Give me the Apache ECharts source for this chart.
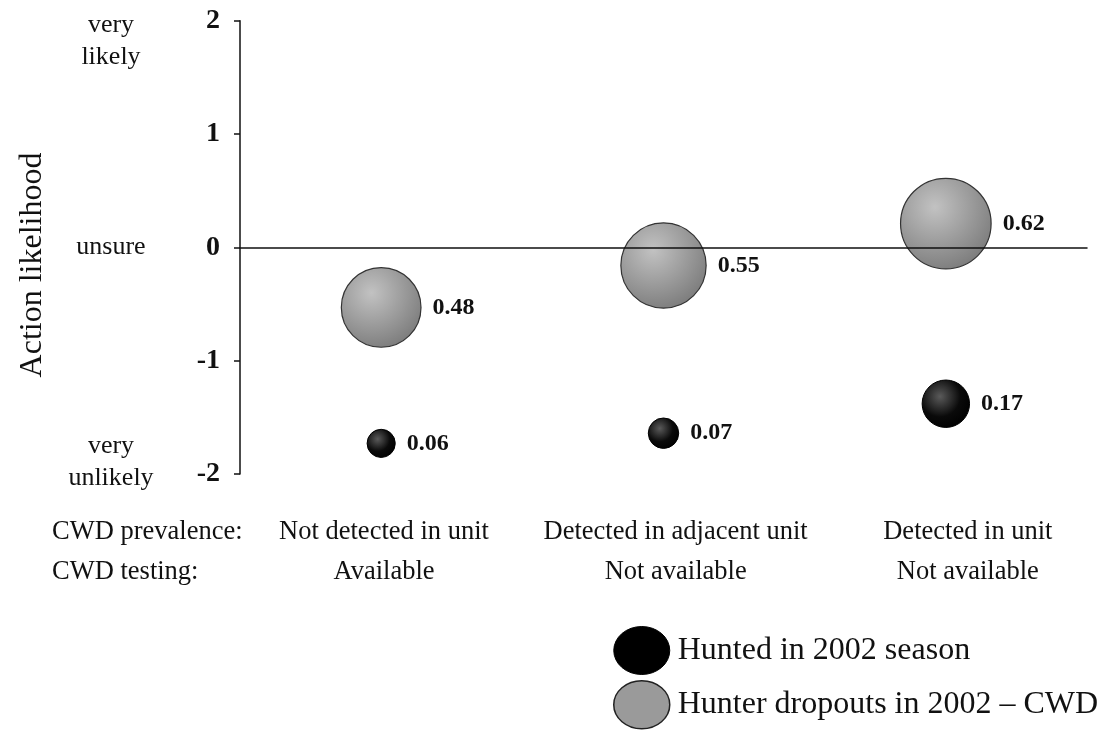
<!DOCTYPE html>
<html><head><meta charset="utf-8">
<script src="https://cdn.jsdelivr.net/npm/echarts@6/dist/echarts.min.js"></script>
<style>html,body{margin:0;padding:0;background:#fff}#c{width:1100px;height:730px}</style>
</head><body><div id="c"></div>
<script>
// ---- data ----
const prevalence = ['Not detected in unit', 'Detected in adjacent unit', 'Detected in unit'];
const testing = ['Available', 'Not available', 'Not available'];
const rowLabels = ['CWD prevalence:', 'CWD testing:'];
const seriesNames = ['Hunted in 2002 season', 'Hunter dropouts in 2002 \u2013 CWD'];
const huntedLikelihood = [-1.73, -1.64, -1.38];
const huntedShare = [0.06, 0.07, 0.17];
const dropoutLikelihood = [-0.53, -0.16, 0.21];
const dropoutShare = [0.48, 0.55, 0.62];
const yTicks = [-2, -1, 0, 1, 2];
const yDescriptorValues = [2, 0, -2];
const yDescriptors = ['very\nlikely', 'unsure', 'very\nunlikely'];
const yAxisName = 'Action likelihood';

const FONT = '"Liberation Serif", "DejaVu Serif", serif';
const chart = echarts.init(document.getElementById('c'), null, {renderer: 'canvas'});

function toPoints(ys, shares) {
  return ys.map((y, i) => [i + 1, y, shares[i]]);
}
const sizeFn = d => 115 * Math.sqrt(d[2]);

const grayGrad = {type: 'radial', x: 0.38, y: 0.32, r: 0.72,
  colorStops: [{offset: 0, color: '#c2c2c2'}, {offset: 1, color: '#7c7c7c'}]};
const blackGrad = {type: 'radial', x: 0.38, y: 0.35, r: 0.7,
  colorStops: [{offset: 0, color: '#5a5a5a'}, {offset: 0.6, color: '#0a0a0a'}, {offset: 1, color: '#000'}]};

const labelCfg = {show: true, position: 'right', distance: 11,
  formatter: p => p.data[2].toFixed(2),
  fontFamily: FONT, fontWeight: 'bold', fontSize: 24, color: '#111'};

// ellipse whose own bounding box is 56 x 48 so that aspect keeping still gives an ellipse
const ellipseIcon = 'path://M0,24 A28,24 0 1,1 56,24 A28,24 0 1,1 0,24 Z';

chart.setOption({
  animation: false,
  grid: {left: 240, right: 13, top: 20.7, bottom: 256, containLabel: false},
  legend: {
    orient: 'vertical', left: 613, top: 626, padding: 0,
    itemWidth: 56, itemHeight: 48, itemGap: 5,
    textStyle: {fontFamily: FONT, fontSize: 32, color: '#111', padding: [0, 0, 0, 3]},
    data: [
      {name: seriesNames[0], icon: ellipseIcon, itemStyle: {color: '#000', borderColor: '#000', borderWidth: 1}},
      {name: seriesNames[1], icon: ellipseIcon, itemStyle: {color: '#9a9a9a', borderColor: '#222', borderWidth: 1.5}}
    ]
  },
  xAxis: [
    {type: 'value', min: 0.5, max: 3.5, z: 5,
      axisLine: {onZero: true, lineStyle: {color: '#111', width: 1.5}},
      axisTick: {show: false}, axisLabel: {show: false}, splitLine: {show: false}},
    {type: 'value', min: 0.5, max: 3.5, position: 'bottom',
      axisLine: {show: false, onZero: false}, axisTick: {show: false}, splitLine: {show: false},
      axisLabel: {
        customValues: [1.01, 2.043, 3.078], margin: 38,
        formatter: v => { const i = Math.round(v) - 1; return prevalence[i] + '\n' + testing[i]; },
        fontFamily: FONT, fontSize: 26.5, lineHeight: 40, color: '#111', align: 'center'
      }}
  ],
  yAxis: {
    type: 'value', min: yTicks[0], max: yTicks[yTicks.length - 1], interval: 1,
    axisLine: {show: true, lineStyle: {color: '#111', width: 1.5}},
    axisTick: {show: true, inside: false, length: 6, lineStyle: {color: '#111', width: 1.5}},
    axisLabel: {margin: 20, fontFamily: FONT, fontWeight: 'bold', fontSize: 28, color: '#111'},
    splitLine: {show: false}
  },
  series: [
    {name: seriesNames[0], type: 'scatter', xAxisIndex: 0, yAxisIndex: 0,
      data: toPoints(huntedLikelihood, huntedShare), symbolSize: sizeFn,
      itemStyle: {color: blackGrad, borderColor: '#000', borderWidth: 1, opacity: 1},
      label: labelCfg},
    {name: seriesNames[1], type: 'scatter', xAxisIndex: 0, yAxisIndex: 0,
      data: toPoints(dropoutLikelihood, dropoutShare), symbolSize: sizeFn,
      itemStyle: {color: grayGrad, borderColor: '#333', borderWidth: 1.2, opacity: 1},
      label: labelCfg}
  ]
});

// descriptive texts beside the y axis
const gfx = [];
const descOffsets = [-12, 0, -12];
const descAlign = ['top', 'middle', 'middle'];
yDescriptorValues.forEach((v, i) => {
  const py = chart.convertToPixel({yAxisIndex: 0}, v) + descOffsets[i];
  gfx.push({type: 'text', x: 111, y: py, style: {
    text: yDescriptors[i], fontFamily: FONT, fontSize: 26, lineHeight: 32,
    fill: '#111', align: 'center', verticalAlign: descAlign[i]}});
});
gfx.push({type: 'text', x: 33, y: 265, rotation: Math.PI / 2, style: {
  text: yAxisName, fontFamily: FONT, fontSize: 32, fill: '#111', align: 'center', verticalAlign: 'middle'}});
rowLabels.forEach((t, i) => {
  gfx.push({type: 'text', x: 52, y: 532 + i * 40, style: {
    text: t, fontFamily: FONT, fontSize: 26.5, fill: '#111', align: 'left', verticalAlign: 'middle'}});
});
chart.setOption({graphic: gfx});
</script></body></html>
